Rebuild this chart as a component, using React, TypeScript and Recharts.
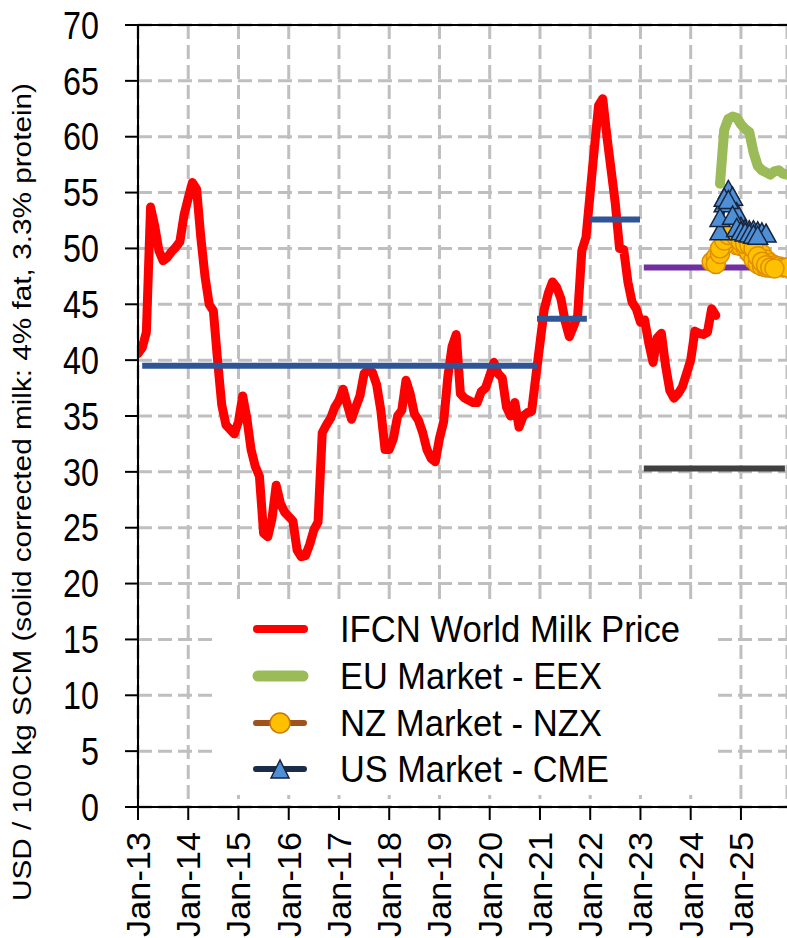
import { LineChart, Line, XAxis, YAxis, CartesianGrid, ReferenceLine } from 'recharts';

const FONT = '"Liberation Sans", Arial, sans-serif';

const yearLabels = ['Jan-13', 'Jan-14', 'Jan-15', 'Jan-16', 'Jan-17', 'Jan-18', 'Jan-19', 'Jan-20', 'Jan-21', 'Jan-22', 'Jan-23', 'Jan-24', 'Jan-25'];
const yearTicks = yearLabels.map((_, i) => i * 12);
const valueTicks = [0, 5, 10, 15, 20, 25, 30, 35, 40, 45, 50, 55, 60, 65, 70];
const yTitle = 'USD / 100 kg SCM (solid corrected milk: 4% fat, 3.3% protein)';

// IFCN World Milk Price, monthly from Jan-13
const milkPrice = [
  40.6, 41.1, 42.5, 53.7, 52.0, 49.8, 48.9, 49.2, 49.7, 50.1, 50.6, 53.0,
  54.5, 55.9, 55.3, 51.0, 47.5, 45.0, 44.4, 40.0, 36.0, 34.2, 33.8, 33.4,
  34.5, 36.8, 34.8, 32.0, 30.5, 29.6, 24.5, 24.2, 25.8, 28.8, 27.2, 26.4,
  26.0, 25.6, 23.0, 22.4, 22.5, 23.5, 24.8, 25.5, 33.5, 34.2, 34.8, 35.8,
  36.4, 37.4, 36.0, 34.7, 35.8, 36.8, 38.8, 39.1, 38.9, 37.8, 35.5, 32.0,
  32.0, 33.0, 35.0, 35.5, 38.2, 37.0, 35.2, 34.6, 33.5, 32.0, 31.2, 30.9,
  33.0, 34.5, 38.5, 41.2, 42.3, 37.0, 36.6, 36.4, 36.2, 36.2, 37.2, 37.5,
  38.6, 39.8, 38.8, 38.4, 35.8, 35.0, 36.2, 34.0, 35.0, 35.3, 35.4, 38.5,
  41.5, 44.5, 46.0, 47.0, 46.5, 45.5, 43.5, 42.1, 43.0, 44.0, 49.8, 51.0,
  55.0, 59.0, 62.8, 63.4, 60.0, 57.0, 54.0, 50.0, 49.9, 47.0, 45.2, 44.6,
  43.4, 43.6, 41.5, 39.8, 42.0, 42.4, 39.5, 37.3, 36.6, 37.0, 37.6, 38.8,
  40.0, 42.6, 42.4, 42.3, 42.5, 44.6, 44.0,
];

// futures (month index from Jan-13)
const eexStart = 139;
const eexValues = [55.8, 60.6, 61.6, 61.8, 61.7, 61.1, 60.7, 60.4, 58.6, 57.4, 57.0, 56.8, 56.6, 56.9, 57.0, 56.7, 56.6];

const nzxStartA = 138;
const nzxValuesA = [48.6, 49.5, 50.3, 50.9, 51.3, 51.2, 50.9, 50.7, 50.6, 50.5, 50.0, 49.5, 49.0, 48.7, 48.5, 48.4, 48.3, 48.3];
const nzxStartB = 139;
const nzxValuesB = [50.0, 50.7, 51.2, 51.5, 51.0, 50.6, 50.4, 50.3, 50.0, 49.3, 48.8, 48.5, 48.3, 48.2];
const nzxStartC = 137;
const nzxValuesC = [48.8, 49.2, 49.9, 50.5, 50.9, 50.6, 50.3, 50.2, 50.1, 49.6, 49.0, 48.6, 48.4, 48.3, 48.3];

const cmeStartA = 139;
const cmeValuesA = [51.4, 53.9, 55.1, 54.5, 53.1, 51.8, 51.6, 51.5, 51.5, 51.4, 51.3, 51.2];
const cmeStartB = 139;
const cmeValuesB = [52.6, 54.4, 54.2, 52.8, 51.7, 51.4, 51.3, 51.2, 51.1, 51.0];

// period averages
const avgPeriods = [
  { from: 1, to: 95.3, value: 39.5 },
  { from: 95.3, to: 107.2, value: 43.7 },
  { from: 108, to: 119.9, value: 52.6 },
];
const outlookFrom = 120.8;
const outlookTo = 154.5;
const outlookHigh = 48.3;
const outlookLow = 30.3;

const toPoints = (start: number, values: number[]) => values.map((v, i) => ({ m: start + i, v }));
const flat = (from: number, to: number, v: number) => [{ m: from, v }, { m: to, v }];

const ifcnData = toPoints(0, milkPrice);

const XTick = ({ x, y, payload }: any) => (
  <text
    transform={`translate(${x},${y + 12}) rotate(-90) scale(1.04,1)`}
    textAnchor="end"
    dy="0.36em"
    fontSize={33}
    fontFamily={FONT}
    fill="#000"
  >
    {yearLabels[Math.round(payload.value / 12)]}
  </text>
);

const YTick = ({ x, y, payload }: any) => (
  <text
    transform={`translate(${x - 26},${y}) scale(0.85,1)`}
    textAnchor="end"
    dy="0.36em"
    fontSize={38}
    fontFamily={FONT}
    fill="#000"
  >
    {payload.value}
  </text>
);

const YTitle = () => (
  <text
    transform="translate(31,492) rotate(-90)"
    textAnchor="middle"
    fontSize={25}
    fontFamily={FONT}
    textLength={818}
    lengthAdjust="spacingAndGlyphs"
    fill="#000"
  >
    {yTitle}
  </text>
);

const Triangle = ({ cx, cy }: any) => {
  if (cx == null || cy == null) return null;
  return (
    <polygon
      points={`${cx},${cy - 11} ${cx - 10},${cy + 7} ${cx + 10},${cy + 7}`}
      fill="#4f8fd6"
      stroke="#17243d"
      strokeWidth={1.5}
    />
  );
};

const circleDot = { r: 9.5, fill: '#ffc000', stroke: '#e08e00', strokeWidth: 1.5 };

function LegendBox() {
  const rows = [
    { y: 26, label: 'IFCN World Milk Price', len: 340 },
    { y: 73, label: 'EU Market - EEX', len: 262 },
    { y: 120, label: 'NZ Market - NZX', len: 262 },
    { y: 166, label: 'US Market - CME', len: 269 },
  ];
  return (
    <div style={{ position: 'absolute', left: 215, top: 603, width: 500, height: 192, background: '#fff' }}>
      <svg width={500} height={192}>
        <line x1={42} x2={89} y1={26} y2={26} stroke="#ff0000" strokeWidth={8} strokeLinecap="round" />
        <line x1={43} x2={88} y1={73} y2={73} stroke="#9bbb59" strokeWidth={11} strokeLinecap="round" />
        <line x1={41} x2={89} y1={120} y2={120} stroke="#a0521a" strokeWidth={6} strokeLinecap="round" />
        <circle cx={65} cy={120} r={10} fill="#ffc000" stroke="#c87800" strokeWidth={1.5} />
        <line x1={41} x2={89} y1={166} y2={166} stroke="#1b2c4b" strokeWidth={6} strokeLinecap="round" />
        <polygon points="65,157 56,175 74,175" fill="#4f8fd6" stroke="#17243d" strokeWidth={1.5} />
        {rows.map((r) => (
          <text
            key={r.label}
            x={125}
            y={r.y + 13}
            fontSize={37}
            fontFamily={FONT}
            textLength={r.len}
            lengthAdjust="spacingAndGlyphs"
            fill="#000"
          >
            {r.label}
          </text>
        ))}
      </svg>
    </div>
  );
}

export default function App() {
  return (
    <div style={{ position: 'absolute', left: 0, top: 0, width: 787, height: 938, background: '#fff', overflow: 'hidden' }}>
      <LineChart width={787} height={938} margin={{ top: 25, right: 0, bottom: 0, left: 0 }}>
        <CartesianGrid stroke="#bfbfbf" strokeWidth={3} strokeDasharray="14 6" />
        <XAxis
          dataKey="m"
          type="number"
          domain={[0, 155]}
          ticks={yearTicks}
          interval={0}
          allowDataOverflow
          height={131}
          tickSize={13}
          tickMargin={0}
          tick={<XTick />}
          axisLine={{ stroke: '#000', strokeWidth: 2 }}
          tickLine={{ stroke: '#000', strokeWidth: 2 }}
        />
        <YAxis
          type="number"
          domain={[0, 70]}
          ticks={valueTicks}
          interval={0}
          width={138}
          tickSize={13}
          tickMargin={0}
          tick={<YTick />}
          axisLine={{ stroke: '#000', strokeWidth: 2 }}
          tickLine={{ stroke: '#000', strokeWidth: 2 }}
          label={{ value: yTitle, content: YTitle }}
        />
        <ReferenceLine y={70} stroke="#000" strokeWidth={2} />

        <Line data={ifcnData} dataKey="v" stroke="#ff0000" strokeWidth={9} strokeLinejoin="round" strokeLinecap="round" dot={false} activeDot={false} isAnimationActive={false} />

        {avgPeriods.map((p, i) => (
          <Line key={`avg-${i}`} data={flat(p.from, p.to, p.value)} dataKey="v" stroke="#2f5597" strokeWidth={6} strokeLinecap="butt" dot={false} activeDot={false} isAnimationActive={false} />
        ))}

        <Line data={toPoints(eexStart, eexValues)} dataKey="v" stroke="#9bbb59" strokeWidth={10} strokeLinejoin="round" strokeLinecap="round" dot={false} activeDot={false} isAnimationActive={false} />

        <Line data={toPoints(nzxStartC, nzxValuesC)} dataKey="v" stroke="#a0521a" strokeWidth={3} dot={circleDot} activeDot={false} isAnimationActive={false} />
        <Line data={toPoints(nzxStartA, nzxValuesA)} dataKey="v" stroke="#a0521a" strokeWidth={3} dot={circleDot} activeDot={false} isAnimationActive={false} />
        <Line data={toPoints(nzxStartB, nzxValuesB)} dataKey="v" stroke="#a0521a" strokeWidth={3} dot={circleDot} activeDot={false} isAnimationActive={false} />

        <Line data={toPoints(cmeStartA, cmeValuesA)} dataKey="v" stroke="#1b2c4b" strokeWidth={4} dot={(p: any) => <Triangle key={`ta-${p.index}`} {...p} />} activeDot={false} isAnimationActive={false} />
        <Line data={toPoints(cmeStartB, cmeValuesB)} dataKey="v" stroke="#1b2c4b" strokeWidth={4} dot={(p: any) => <Triangle key={`tb-${p.index}`} {...p} />} activeDot={false} isAnimationActive={false} />

        <Line data={flat(outlookFrom, outlookTo, outlookHigh)} dataKey="v" stroke="#7030a0" strokeWidth={6} strokeLinecap="butt" dot={false} activeDot={false} isAnimationActive={false} />
        <Line data={flat(outlookFrom, outlookTo, outlookLow)} dataKey="v" stroke="#404040" strokeWidth={6} strokeLinecap="butt" dot={false} activeDot={false} isAnimationActive={false} />
      </LineChart>
      <LegendBox />
    </div>
  );
}
